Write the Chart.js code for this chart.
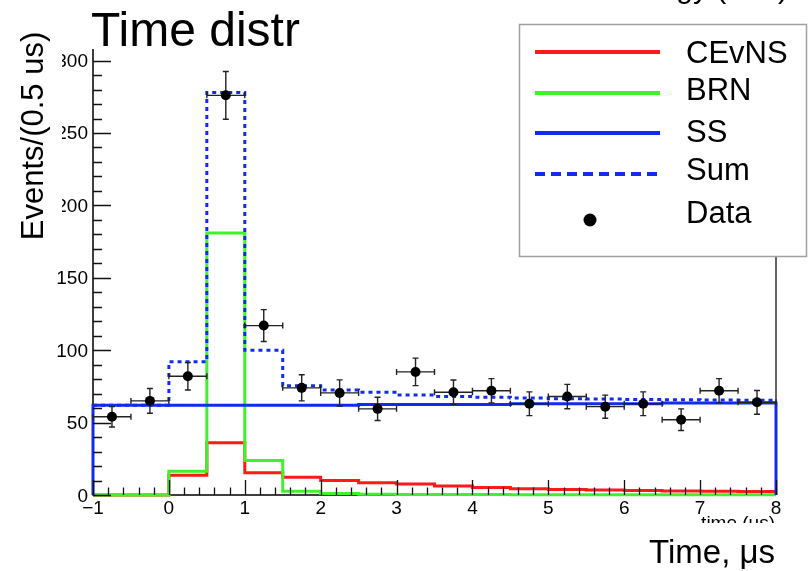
<!DOCTYPE html>
<html>
<head>
<meta charset="utf-8">
<title>Time distr</title>
<script src="https://cdn.jsdelivr.net/npm/chart.js@4.4.1/dist/chart.umd.min.js"></script>
<style>
  html, body { margin: 0; padding: 0; background: #ffffff; }
  canvas { display: block; }
</style>
</head>
<body>
<canvas id="c" width="808" height="571"></canvas>
<script>
// Bin edges of the time histogram (0.5 us bins from -1 to 8 us)
const binEdges = [-1, -0.5, 0, 0.5, 1, 1.5, 2, 2.5, 3, 3.5, 4, 4.5, 5, 5.5, 6, 6.5, 7, 7.5, 8];

// Predicted components per bin
const cevnsValues = [0, 0, 13.7, 36, 15.3, 12.3, 10, 8.5, 7.6, 6.2, 5.1, 4.4, 3.8, 3.4, 3.1, 2.8, 2.6, 2.4];
const brnValues   = [0, 0, 16.4, 181, 23.8, 2.6, 1.0, 0.6, 0.4, 0.3, 0.3, 0.2, 0.2, 0.2, 0.2, 0.2, 0.2, 0.2];
const ssValues    = [62, 62, 62, 62, 62, 62, 62, 62.5, 62.5, 62.5, 62.5, 63, 63, 63, 63, 63.5, 63.5, 63.5];
const sumValues   = [62, 62, 92, 278, 100, 75.5, 72.5, 71, 69, 68, 67.5, 67, 66.5, 66.3, 66, 65.8, 65.6, 65.5];

// Measured counts at bin centres with their errors
const dataTimes  = [-0.75, -0.25, 0.25, 0.75, 1.25, 1.75, 2.25, 2.75, 3.25, 3.75, 4.25, 4.75, 5.25, 5.75, 6.25, 6.75, 7.25, 7.75];
const dataCounts = [54, 65, 82, 276, 117, 74, 70.5, 59.5, 85, 71, 72, 63, 68, 61, 63, 52, 72, 64];
const dataErrors = [7, 8.5, 9.5, 16.5, 11, 9, 9, 8, 9.5, 8.4, 8.4, 8.2, 8.4, 8, 8.2, 7.5, 8.4, 8.2];
const dataHalfWidth = 0.25;

// Axis ticks
const xMajorTicks = [-1, 0, 1, 2, 3, 4, 5, 6, 7, 8];
const xTickLabels = ['\u22121', '0', '1', '2', '3', '4', '5', '6', '7', '8'];
const yMajorTicks = [0, 50, 100, 150, 200, 250, 300];
const yTickLabels = ['0', '50', '100', '150', '200', '250', '300'];

const X_MIN = -1, X_MAX = 8, Y_MIN = 0, Y_MAX = 308;

const FONT = '"Liberation Sans", Arial, Helvetica, sans-serif';
const RED = '#ff1a1a';
const GREEN = '#3ff22a';
const BLUE = '#0f2cf0';

function stepPoints(values, closeEnds) {
  const pts = [];
  if (closeEnds) pts.push({ x: binEdges[0], y: 0 });
  for (let i = 0; i < values.length; i++) pts.push({ x: binEdges[i], y: values[i] });
  pts.push({ x: binEdges[binEdges.length - 1], y: values[values.length - 1] });
  if (closeEnds) pts.push({ x: binEdges[binEdges.length - 1], y: 0 });
  return pts;
}

const histStyle = {
  type: 'line', stepped: 'before', pointRadius: 0, fill: false, tension: 0,
  borderWidth: 3, clip: false
};

// Frame, ticks and tick labels drawn in a ROOT-like style on the chart scales
const axesPlugin = {
  id: 'rootAxes',
  beforeDatasetsDraw(chart) {
    const { ctx, scales: { x, y } } = chart;
    const left = x.getPixelForValue(X_MIN), right = x.getPixelForValue(X_MAX);
    const top = y.getPixelForValue(Y_MAX), bottom = y.getPixelForValue(0);
    ctx.save();
    ctx.strokeStyle = '#000';
    ctx.lineWidth = 1.5;
    ctx.beginPath();
    ctx.moveTo(left, top); ctx.lineTo(left, bottom); ctx.lineTo(right, bottom);
    ctx.stroke();
    ctx.lineWidth = 1.2;
    ctx.beginPath();
    ctx.moveTo(right, top); ctx.lineTo(right, bottom);
    ctx.stroke();
    ctx.restore();
  },
  afterDatasetsDraw(chart) {
    const { ctx, scales: { x, y } } = chart;
    const left = x.getPixelForValue(X_MIN);
    const bottom = y.getPixelForValue(0);
    ctx.save();
    ctx.strokeStyle = '#111';
    ctx.lineWidth = 1.3;
    ctx.beginPath();
    // y ticks: major every 50, minor every 10
    for (let v = 0; v <= Y_MAX; v += 10) {
      const py = Math.round(y.getPixelForValue(v)) + 0.5;
      const len = (v % 50 === 0) ? 18 : 9;
      ctx.moveTo(left, py); ctx.lineTo(left + len, py);
    }
    // x ticks: major every 1, minor every 0.2
    for (let k = 0; k <= 45; k++) {
      const v = X_MIN + k * 0.2;
      const px = Math.round(x.getPixelForValue(v)) + 0.5;
      const len = (k % 5 === 0) ? 15 : 7.5;
      ctx.moveTo(px, bottom); ctx.lineTo(px, bottom - len);
    }
    ctx.stroke();

    ctx.fillStyle = '#000';
    ctx.font = '19px ' + FONT;
    ctx.textAlign = 'right';
    ctx.textBaseline = 'alphabetic';
    yMajorTicks.forEach((v, i) => {
      ctx.fillText(yTickLabels[i], left - 5, y.getPixelForValue(v) + 6.5);
    });
    ctx.textAlign = 'center';
    xMajorTicks.forEach((v, i) => {
      ctx.fillText(xTickLabels[i], x.getPixelForValue(v), bottom + 19);
    });
    ctx.restore();
  }
};

// Horizontal and vertical error bars for the measured points
const errorBarPlugin = {
  id: 'errorBars',
  beforeDatasetDraw(chart, args) {
    if (chart.data.datasets[args.index].label !== 'Data') return;
    const { ctx, scales: { x, y } } = chart;
    ctx.save();
    ctx.strokeStyle = '#222';
    ctx.lineWidth = 1.4;
    ctx.beginPath();
    const cap = 3;
    dataTimes.forEach((t, i) => {
      const px = x.getPixelForValue(t), py = y.getPixelForValue(dataCounts[i]);
      const x0 = x.getPixelForValue(t - dataHalfWidth), x1 = x.getPixelForValue(t + dataHalfWidth);
      const y0 = y.getPixelForValue(dataCounts[i] - dataErrors[i]);
      const y1 = y.getPixelForValue(dataCounts[i] + dataErrors[i]);
      ctx.moveTo(x0, py); ctx.lineTo(x1, py);
      ctx.moveTo(x0, py - cap); ctx.lineTo(x0, py + cap);
      ctx.moveTo(x1, py - cap); ctx.lineTo(x1, py + cap);
      ctx.moveTo(px, y0); ctx.lineTo(px, y1);
      ctx.moveTo(px - cap, y0); ctx.lineTo(px + cap, y0);
      ctx.moveTo(px - cap, y1); ctx.lineTo(px + cap, y1);
    });
    ctx.stroke();
    ctx.restore();
  }
};

// Titles, axis captions and the legend box
const decorPlugin = {
  id: 'decor',
  afterDraw(chart) {
    const { ctx } = chart;
    ctx.save();
    ctx.fillStyle = '#000';
    ctx.textBaseline = 'alphabetic';

    ctx.font = '48px ' + FONT;
    ctx.textAlign = 'left';
    ctx.fillText('Time distr', 91, 46);

    ctx.font = '30px ' + FONT;
    ctx.textAlign = 'right';
    ctx.fillText('Energy (keV)', 788, -2);

    // y caption panel
    ctx.fillStyle = '#fff';
    ctx.fillRect(0, 0, 62, 232);
    ctx.fillStyle = '#000';
    ctx.save();
    ctx.translate(43, 136);
    ctx.rotate(-Math.PI / 2);
    ctx.font = '31px ' + FONT;
    ctx.textAlign = 'center';
    ctx.fillText('Events/(0.5 us)', 0, 0);
    ctx.restore();

    // x captions
    ctx.font = '19px ' + FONT;
    ctx.textAlign = 'right';
    ctx.fillText('time (us)', 775, 529);
    ctx.fillStyle = '#fff';
    ctx.fillRect(560, 523, 248, 48);
    ctx.fillStyle = '#000';
    ctx.font = '33px ' + FONT;
    ctx.fillText('Time, \u03bcs', 775, 563);

    // legend
    ctx.fillStyle = '#fff';
    ctx.fillRect(519.5, 24.5, 287, 232);
    ctx.strokeStyle = '#a0a0a0';
    ctx.lineWidth = 1.5;
    ctx.strokeRect(519.5, 24.5, 287, 232);

    const entries = [
      { label: 'CEvNS', color: RED, dash: [], lineY: 52, textY: 63 },
      { label: 'BRN', color: GREEN, dash: [], lineY: 93, textY: 100 },
      { label: 'SS', color: BLUE, dash: [], lineY: 133, textY: 142 },
      { label: 'Sum', color: BLUE, dash: [10, 6], lineY: 174, textY: 180 },
      { label: 'Data', marker: true, lineY: 220, textY: 223 }
    ];
    entries.forEach(e => {
      if (e.marker) {
        ctx.fillStyle = '#000';
        ctx.beginPath();
        ctx.arc(590, e.lineY, 6.5, 0, Math.PI * 2);
        ctx.fill();
      } else {
        ctx.strokeStyle = e.color;
        ctx.lineWidth = 4;
        ctx.setLineDash(e.dash);
        ctx.beginPath();
        ctx.moveTo(535, e.lineY); ctx.lineTo(660, e.lineY);
        ctx.stroke();
        ctx.setLineDash([]);
      }
      ctx.fillStyle = '#000';
      ctx.font = '31px ' + FONT;
      ctx.textAlign = 'left';
      ctx.fillText(e.label, 686, e.textY);
    });
    ctx.restore();
  }
};

new Chart(document.getElementById('c'), {
  type: 'line',
  data: {
    datasets: [
      { label: 'Data', type: 'line', showLine: false, order: 0,
        data: dataTimes.map((t, i) => ({ x: t, y: dataCounts[i] })),
        pointRadius: 5, pointBackgroundColor: '#000', pointBorderWidth: 0, pointBorderColor: '#000' },
      Object.assign({ label: 'Sum', order: 1, data: stepPoints(sumValues, false),
        borderColor: BLUE, borderDash: [4, 4] }, histStyle),
      Object.assign({ label: 'SS', order: 2, data: stepPoints(ssValues, true),
        borderColor: BLUE }, histStyle),
      Object.assign({ label: 'BRN', order: 3, data: stepPoints(brnValues, false),
        borderColor: GREEN }, histStyle),
      Object.assign({ label: 'CEvNS', order: 4, data: stepPoints(cevnsValues, false),
        borderColor: RED }, histStyle)
    ]
  },
  options: {
    responsive: false,
    devicePixelRatio: 1,
    animation: false,
    events: [],
    layout: { padding: { left: 93, right: 32, top: 49, bottom: 76 } },
    plugins: { legend: { display: false }, tooltip: { enabled: false }, title: { display: false } },
    scales: {
      x: { type: 'linear', min: X_MIN, max: X_MAX, display: false },
      y: { type: 'linear', min: Y_MIN, max: Y_MAX, display: false }
    }
  },
  plugins: [axesPlugin, errorBarPlugin, decorPlugin]
});
</script>
</body>
</html>
